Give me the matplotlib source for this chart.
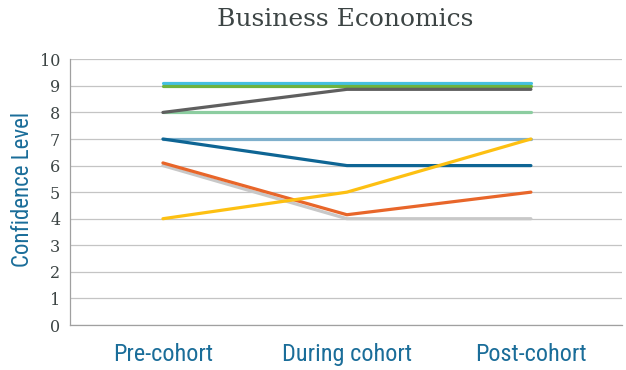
import matplotlib
matplotlib.use("Agg")
import matplotlib.pyplot as plt
from matplotlib import font_manager

categories = ["Pre-cohort", "During cohort", "Post-cohort"]
series_light_gray = [6.0, 4.0, 4.0]
series_orange = [6.1, 4.15, 5.0]
series_dark_blue = [7.0, 6.0, 6.0]
series_steel_blue = [7.0, 7.0, 7.0]
series_light_green = [8.0, 8.0, 8.0]
series_dark_gray = [8.0, 8.87, 8.87]
series_green = [9.0, 9.0, 9.0]
series_cyan = [9.1, 9.1, 9.1]
series_yellow = [4.0, 5.0, 7.0]
y_ticks = list(range(0, 11))

names = {f.name for f in font_manager.fontManager.ttflist}
cond = [f for f in ["Liberation Sans Narrow", "DejaVu Sans Condensed", "Roboto Condensed"] if f in names]
cond_family = cond + ["DejaVu Sans"]

W, H = 626, 370
fig = plt.figure(figsize=(W / 100, H / 100), dpi=100)
ax = fig.add_axes([70 / W, 45 / H, 552 / W, (325 - 59.3) / H])

x = list(range(len(categories)))
lw = 2.3
ax.plot(x, series_light_gray, color="#c8c8c8", lw=lw, solid_capstyle="round", zorder=3)
ax.plot(x, series_orange, color="#e8662a", lw=lw, solid_capstyle="round", zorder=3)
ax.plot(x, series_light_green, color="#8ccda0", lw=lw, solid_capstyle="round", zorder=3)
ax.plot(x, series_steel_blue, color="#7fb0cc", lw=lw, solid_capstyle="round", zorder=3)
ax.plot(x, series_dark_blue, color="#0e6594", lw=lw, solid_capstyle="round", zorder=3)
ax.plot(x, series_yellow, color="#fdc012", lw=lw, solid_capstyle="round", zorder=3)
ax.plot(x, series_cyan, color="#45c0e0", lw=lw, solid_capstyle="round", zorder=3)
ax.plot(x, series_green, color="#6db33f", lw=lw, solid_capstyle="round", zorder=3)
ax.plot(x, series_dark_gray, color="#5f5f5f", lw=lw, solid_capstyle="round", zorder=3)

ax.set_xlim(-0.505, 2.495)
ax.set_ylim(0, 10)
ax.set_yticks(y_ticks)
ax.set_yticklabels([str(v) for v in y_ticks], family="DejaVu Serif", fontsize=11.5, color="#3c4444")
ax.tick_params(axis="y", length=0, pad=7)
ax.set_xticks(x)
ax.set_xticklabels(categories, fontsize=17.5, color="#1a6d99", family=cond_family)
ax.tick_params(axis="x", length=0, pad=13)
ax.grid(axis="y", color="#c4c4c4", lw=0.9, zorder=0)
for s in ["top", "right"]:
    ax.spines[s].set_visible(False)
for s in ["left", "bottom"]:
    ax.spines[s].set_color("#a0a0a0")
    ax.spines[s].set_linewidth(0.9)

fig.text(23 / W, 1 - 189 / H, "Confidence Level", rotation=90, ha="center", va="center",
         fontsize=16.5, color="#1a6d99", family=cond_family)
fig.text(345 / W, 1 - 20 / H, "Business Economics", ha="center", va="center", family="DejaVu Serif",
         fontsize=18, color="#3c4444")

fig.savefig("out.png", dpi=100)
